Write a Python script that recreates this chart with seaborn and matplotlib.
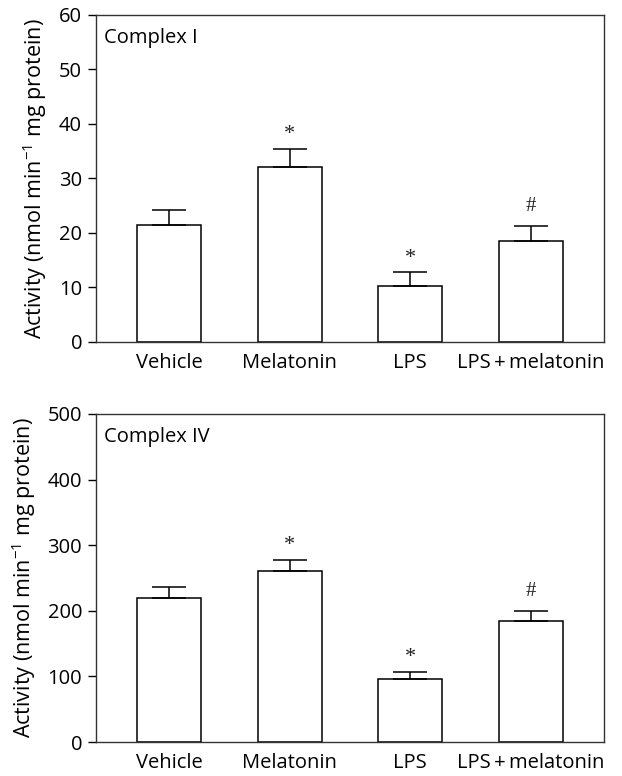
import matplotlib
matplotlib.use("Agg")
import matplotlib.pyplot as plt
import seaborn as sns
import pandas as pd

groups = ["Vehicle", "Melatonin", "LPS", "LPS + melatonin"]
tick_labels = ["Vehicle", "Melatonin", "LPS", "LPS\u2009+\u2009melatonin"]
complex1_mean = [21.4, 32.1, 10.3, 18.6]
complex1_sem = [2.8, 3.4, 2.5, 2.6]
complex4_mean = [219.5, 260.2, 96.3, 183.9]
complex4_sem = [17.3, 17.8, 10.7, 16.1]
marks = ["", "*", "*", "#"]

sns.set_style("ticks")
plt.rcParams["font.family"] = ["Open Sans", "DejaVu Sans"]
plt.rcParams["mathtext.fontset"] = "custom"
plt.rcParams["mathtext.rm"] = "Open Sans"
for key in ["text.color", "axes.labelcolor", "xtick.color", "ytick.color"]:
    plt.rcParams[key] = "black"

FS = 14.5

fig = plt.figure(figsize=(6.22, 7.76), dpi=100)
ax1 = fig.add_axes([0.1543, 0.5593, 0.8167, 0.4214])
ax2 = fig.add_axes([0.1543, 0.0438, 0.8167, 0.4227])

panels = [
    (ax1, complex1_mean, complex1_sem, "Complex I", 60, range(0, 61, 10)),
    (ax2, complex4_mean, complex4_sem, "Complex IV", 500, range(0, 501, 100)),
]

for ax, means, sems, title, ymax, ticks in panels:
    df = pd.DataFrame({"group": groups, "value": means})
    sns.barplot(data=df, x="group", y="value", ax=ax, color="white",
                edgecolor="black", linewidth=1.1, width=0.53, errorbar=None)
    for p in ax.patches:
        p.set_facecolor("white")
    ax.errorbar(range(len(groups)), means, yerr=[[0] * len(sems), sems],
                fmt="none", ecolor="black", elinewidth=1.1, capsize=12,
                capthick=1.1)
    for i, (m, s, mk) in enumerate(zip(means, sems, marks)):
        if mk:
            ax.annotate(mk, (i, m + s), xytext=(0, 10 if mk == "*" else 14),
                        textcoords="offset points", ha="center", va="center",
                        fontsize=16 if mk == "*" else 15, color="#222222",
                        family=["Liberation Serif", "DejaVu Serif"])
    ax.set_xlim(-0.605, 3.605)
    ax.set_ylim(0, ymax)
    ax.set_yticks(list(ticks))
    ax.set_xticks(range(len(groups)))
    ax.set_xticklabels(tick_labels)
    ax.tick_params(axis="x", length=0, pad=8, labelsize=FS, colors="black")
    ax.tick_params(axis="y", length=6, width=1, labelsize=FS, pad=4,
                   colors="black")
    for sp in ax.spines.values():
        sp.set_visible(True)
        sp.set_linewidth(1.0)
        sp.set_color("#333333")
    ax.set_xlabel("")
    ax.set_ylabel("Activity (nmol min$^{-1}$ mg protein)", fontsize=15.5,
                  labelpad=7, color="black")
    ax.text(0.016, 0.93, title, transform=ax.transAxes, fontsize=FS,
            ha="left", va="center", color="black")

fig.savefig("out.png", dpi=100)
